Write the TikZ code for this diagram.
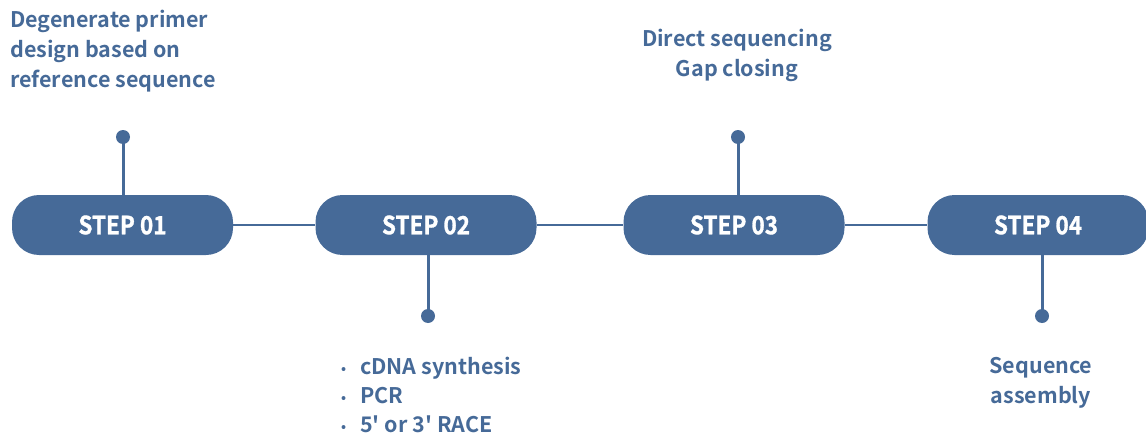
\documentclass[tikz,border=0pt]{standalone}
\usepackage{fontspec}
\setmainfont{Noto Sans CJK KR}[BoldFont={Noto Sans CJK KR Bold}]
\newfontfamily\stepfont{Noto Sans CJK KR Bold}[FakeBold=1.2]
\definecolor{stepblue}{HTML}{466A98}
\newcommand{\bul}{\makebox[19pt][l]{\raisebox{1pt}{\scalebox{0.62}{\textbullet}}}}
\tikzset{
  stepbox/.style={fill=stepblue, rounded corners=27pt, minimum width=221pt, minimum height=60pt,
    inner sep=0pt, text=white, font=\fontsize{25}{30}\stepfont},
  pin/.style={circle, fill=stepblue, inner sep=0pt, minimum size=14pt},
  stem/.style={draw=stepblue, line width=3pt},
  link/.style={draw=stepblue, line width=1.5pt},
  note/.style={text=stepblue, inner sep=0pt, font=\fontsize{21.5}{30}\selectfont\bfseries}
}
\begin{document}
\begin{tikzpicture}[x=1pt,y=-1pt]
\useasboundingbox (0,0) rectangle (1146,436);
\node[stepbox] (s1) at (122.5,225) {\scalebox{0.9}[1]{STEP 01}};
\node[stepbox] (s2) at (426,225) {\scalebox{0.9}[1]{STEP 02}};
\node[stepbox] (s3) at (734,225) {\scalebox{0.9}[1]{STEP 03}};
\node[stepbox] (s4) at (1038,225) {\scalebox{0.9}[1]{STEP 04}};
\draw[link] (s1.east) -- (s2.west);
\draw[link] (s2.east) -- (s3.west);
\draw[link] (s3.east) -- (s4.west);
\node[pin] (d1) at (123,137) {};
\node[pin] (d2) at (428,316) {};
\node[pin] (d3) at (738,137) {};
\node[pin] (d4) at (1042,316) {};
\draw[stem] (d1.center) -- (d1.center |- s1.north);
\draw[stem] (d2.center) -- (d2.center |- s2.south);
\draw[stem] (d3.center) -- (d3.center |- s3.north);
\draw[stem] (d4.center) -- (d4.center |- s4.south);
\node[note, anchor=north west, align=left] (t1) at (10,10) {Degenerate primer\\design based on\\reference sequence};
\node[note, anchor=north, align=center] (t3) at (737,29) {Direct sequencing\\Gap closing};
\node[note, anchor=north west, align=left, font=\fontsize{21.5}{29}\selectfont\bfseries] (t2) at (341,357) {\bul cDNA synthesis\\\bul PCR\\\bul 5\textquotesingle{} or 3\textquotesingle{} RACE};
\node[note, anchor=north, align=center] (t4) at (1041,357) {Sequence\\assembly};
\end{tikzpicture}
\end{document}
